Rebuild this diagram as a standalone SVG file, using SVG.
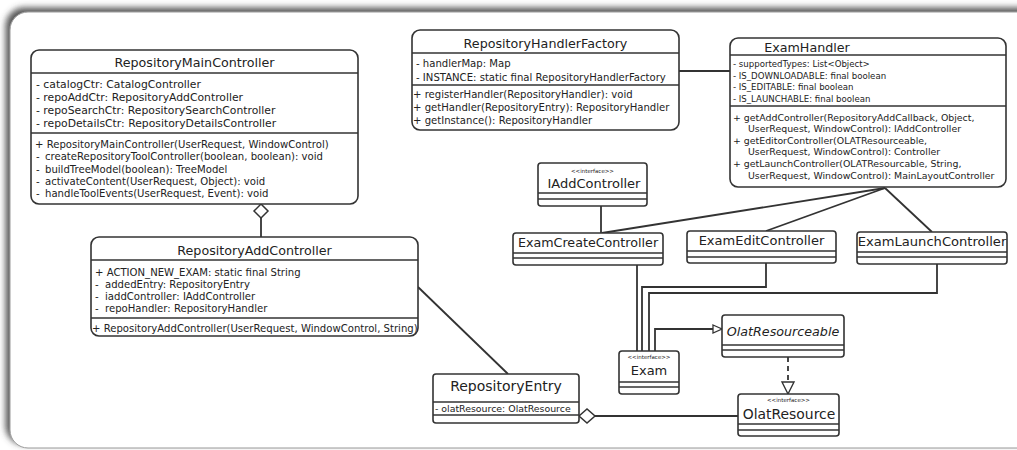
<svg xmlns="http://www.w3.org/2000/svg" width="1017" height="450" viewBox="0 0 1017 450">
<defs>
<filter id="pageShadow" x="-5%" y="-5%" width="110%" height="110%">
<feGaussianBlur in="SourceAlpha" stdDeviation="3"/>
<feOffset dx="-4" dy="-4" result="b"/>
<feFlood flood-color="#444" flood-opacity="0.9"/>
<feComposite in2="b" operator="in"/>
<feMerge><feMergeNode/><feMergeNode in="SourceGraphic"/></feMerge>
</filter>
<marker id="hollowTri" markerWidth="12" markerHeight="12" refX="10" refY="5" orient="auto" markerUnits="userSpaceOnUse" viewBox="0 0 12 10">
<path d="M1,1 L10,5 L1,9 Z" fill="#fff" stroke="#333" stroke-width="1.3"/>
</marker>
</defs>
<style>
.box{fill:#fff;stroke:#333;stroke-width:1.6}
.sep{stroke:#333;stroke-width:1.3}
.edge{fill:none;stroke:#333;stroke-width:1.8}
text{font-family:"DejaVu Sans","Liberation Sans",sans-serif;fill:#222}
.title{font-size:12.7px;text-anchor:middle}
.attr{font-size:10.1px}
.attrL{font-size:10.8px}
.small{font-size:8.6px}
.med{font-size:9.4px}
.stereo{font-size:5.5px;text-anchor:middle}
</style>
<rect x="10" y="12" width="1040" height="436" rx="18" fill="#fff" stroke="#999" stroke-width="1" filter="url(#pageShadow)"/>

<g id="connectors">
<path class="edge" d="M261,218 V237"/>
<path d="M261,204 L268,211 L261,218 L254,211 Z" fill="#fff" stroke="#333" stroke-width="1.5"/>
<path class="edge" d="M418,287 L508,374"/>
<path class="edge" d="M679,71 H730"/>
<path class="edge" d="M601,206 V233"/>
<path class="edge" d="M885,188 L602,233"/>
<path class="edge" d="M885,188 L766,231"/>
<path class="edge" d="M885,188 L932,232"/>
<path class="edge" d="M637,265 V351"/>
<path class="edge" d="M766,263 V287 H642 V351"/>
<path class="edge" d="M937,264 V293 H649 V351"/>
<path class="edge" d="M655,351 V329 H722" marker-end="url(#hollowTri)"/>
<path class="edge" d="M788,357 V383" stroke-dasharray="5,4"/>
<path d="M782,382 L794,382 L788,394 Z" fill="#fff" stroke="#333" stroke-width="1.4"/>
<path class="edge" d="M595,416 H738"/>
<path d="M579,416 L587,409 L595,416 L587,423 Z" fill="#fff" stroke="#333" stroke-width="1.5"/>
</g>

<g id="RepositoryMainController">
<rect class="box" x="31" y="50" width="327" height="154" rx="8"/>
<line class="sep" x1="31" y1="73" x2="358" y2="73"/>
<line class="sep" x1="31" y1="133" x2="358" y2="133"/>
<text class="title" x="194.5" y="66.5">RepositoryMainController</text>
<text class="attrL" x="36" y="88">- catalogCtr: CatalogController</text>
<text class="attrL" x="36" y="101">- repoAddCtr: RepositoryAddController</text>
<text class="attrL" x="36" y="114">- repoSearchCtr: RepositorySearchController</text>
<text class="attrL" x="36" y="127">- repoDetailsCtr: RepositoryDetailsController</text>
<text class="attr" x="35" y="148">+ RepositoryMainController(UserRequest, WindowControl)</text>
<text class="attr" x="36" y="160">-<tspan x="45">createRepositoryToolController(boolean, boolean): void</tspan></text>
<text class="attr" x="36" y="172.5">-<tspan x="45">buildTreeModel(boolean): TreeModel</tspan></text>
<text class="attr" x="36" y="185">-<tspan x="45">activateContent(UserRequest, Object): void</tspan></text>
<text class="attr" x="36" y="197">-<tspan x="45">handleToolEvents(UserRequest, Event): void</tspan></text>
</g>

<g id="RepositoryAddController">
<rect class="box" x="91" y="237" width="327" height="99" rx="8"/>
<line class="sep" x1="91" y1="260" x2="418" y2="260"/>
<line class="sep" x1="91" y1="318" x2="418" y2="318"/>
<text class="title" x="254.5" y="254.5">RepositoryAddController</text>
<text class="attr" x="95" y="276">+ ACTION_NEW_EXAM: static final String</text>
<text class="attr" x="95" y="288">-<tspan x="105">addedEntry: RepositoryEntry</tspan></text>
<text class="attr" x="95" y="300">-<tspan x="105">iaddController: IAddController</tspan></text>
<text class="attr" x="95" y="312">-<tspan x="105">repoHandler: RepositoryHandler</tspan></text>
<text class="attr" x="92" y="332">+ RepositoryAddController(UserRequest, WindowControl, String)</text>
</g>

<g id="RepositoryHandlerFactory">
<rect class="box" x="412" y="30" width="267" height="100" rx="8"/>
<line class="sep" x1="412" y1="53" x2="679" y2="53"/>
<line class="sep" x1="412" y1="85" x2="679" y2="85"/>
<text class="title" x="545.5" y="47.5">RepositoryHandlerFactory</text>
<text class="attr" x="416" y="67">- handlerMap: Map</text>
<text class="attr" x="416" y="81">- INSTANCE: static final RepositoryHandlerFactory</text>
<text class="attr" x="413" y="98">+ registerHandler(RepositoryHandler): void</text>
<text class="attr" x="413" y="111">+ getHandler(RepositoryEntry): RepositoryHandler</text>
<text class="attr" x="413" y="124">+ getInstance(): RepositoryHandler</text>
</g>

<g id="ExamHandler">
<rect class="box" x="730" y="38" width="276" height="149" rx="8"/>
<line class="sep" x1="730" y1="55" x2="1006" y2="55"/>
<line class="sep" x1="730" y1="106" x2="1006" y2="106"/>
<text class="title" x="807" y="51.5">ExamHandler</text>
<text class="small" x="733" y="67">- supportedTypes: List&lt;Object&gt;</text>
<text class="small" x="733" y="78.5">- IS_DOWNLOADABLE: final boolean</text>
<text class="small" x="733" y="90">- IS_EDITABLE: final boolean</text>
<text class="small" x="733" y="101.5">- IS_LAUNCHABLE: final boolean</text>
<text class="med" x="733" y="120.5">+ getAddController(RepositoryAddCallback, Object,</text>
<text class="med" x="748" y="131.5">UserRequest, WindowControl): IAddController</text>
<text class="med" x="733" y="143.5">+ getEditorController(OLATResourceable,</text>
<text class="med" x="748" y="155">UserRequest, WindowControl): Controller</text>
<text class="med" x="733" y="167">+ getLaunchController(OLATResourcable, String,</text>
<text class="med" x="748" y="178.5">UserRequest, WindowControl): MainLayoutController</text>
</g>

<g id="IAddController">
<rect class="box" x="538" y="163" width="109" height="43" rx="3"/>
<line class="sep" x1="538" y1="193" x2="647" y2="193"/>
<line class="sep" x1="538" y1="199" x2="647" y2="199"/>
<text class="stereo" x="592.5" y="173">&lt;&lt;interface&gt;&gt;</text>
<text class="title" x="594" y="188" style="font-size:13px">IAddController</text>
</g>

<g id="ExamCreateController">
<rect class="box" x="513" y="233" width="150" height="32" rx="3"/>
<line class="sep" x1="513" y1="253" x2="663" y2="253"/>
<line class="sep" x1="513" y1="258" x2="663" y2="258"/>
<text class="title" x="588" y="247">ExamCreateController</text>
</g>

<g id="ExamEditController">
<rect class="box" x="687" y="231" width="149" height="32" rx="3"/>
<line class="sep" x1="687" y1="251" x2="836" y2="251"/>
<line class="sep" x1="687" y1="257" x2="836" y2="257"/>
<text class="title" x="761.5" y="245" style="font-size:13px">ExamEditController</text>
</g>

<g id="ExamLaunchController">
<rect class="box" x="857" y="232" width="150" height="32" rx="3"/>
<line class="sep" x1="857" y1="252" x2="1007" y2="252"/>
<line class="sep" x1="857" y1="257" x2="1007" y2="257"/>
<text class="title" x="932" y="246" style="font-size:13.1px">ExamLaunchController</text>
</g>

<g id="Exam">
<rect class="box" x="619" y="351" width="60" height="43" rx="3"/>
<line class="sep" x1="619" y1="382" x2="679" y2="382"/>
<line class="sep" x1="619" y1="387" x2="679" y2="387"/>
<text class="stereo" x="649" y="359">&lt;&lt;interface&gt;&gt;</text>
<text class="title" x="649" y="375" style="font-size:13px">Exam</text>
</g>

<g id="OlatResourceable">
<rect class="box" x="722" y="315" width="122" height="42" rx="3"/>
<line class="sep" x1="722" y1="345" x2="844" y2="345"/>
<line class="sep" x1="722" y1="350" x2="844" y2="350"/>
<text class="title" x="783" y="336" font-style="italic">OlatResourceable</text>
</g>

<g id="OlatResource">
<rect class="box" x="738" y="394" width="101" height="42" rx="3"/>
<line class="sep" x1="738" y1="424" x2="839" y2="424"/>
<line class="sep" x1="738" y1="430" x2="839" y2="430"/>
<text class="stereo" x="788.5" y="402">&lt;&lt;interface&gt;&gt;</text>
<text class="title" x="789" y="418.5" style="font-size:13.9px">OlatResource</text>
</g>

<g id="RepositoryEntry">
<rect class="box" x="433" y="374" width="146" height="49" rx="3"/>
<line class="sep" x1="433" y1="402" x2="579" y2="402"/>
<line class="sep" x1="433" y1="415" x2="579" y2="415"/>
<text class="title" x="506" y="391" style="font-size:14px">RepositoryEntry</text>
<text x="435" y="411.5" style="font-size:9.4px">- olatResource: OlatResource</text>
</g>
</svg>
